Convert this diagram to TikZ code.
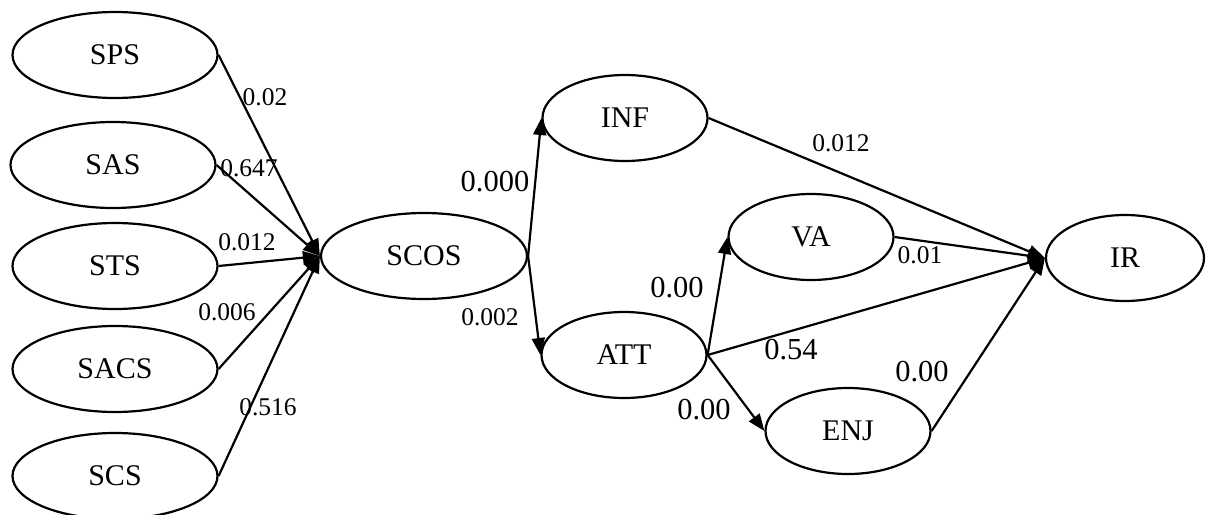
\documentclass[tikz,border=0pt]{standalone}
\usepackage{fontspec}
\setmainfont{Liberation Serif}
\usetikzlibrary{shapes.geometric,arrows.meta}
\begin{document}
\begin{tikzpicture}[x=1pt,y=-1pt,
  latent/.style={ellipse,draw,line width=2.2pt,inner sep=0pt,minimum height=86pt,font=\fontsize{30}{36}\selectfont},
  wide/.style={latent,minimum width=205pt},
  narrow/.style={latent,minimum width=165pt},
  edge/.style={line width=2.2pt,-{Triangle[length=17pt,width=13pt]}},
  lblsmall/.style={font=\fontsize{25.5}{30}\selectfont,inner sep=0pt},
  lblbig/.style={font=\fontsize{30.5}{36}\selectfont,inner sep=0pt}]
\useasboundingbox (0,0) rectangle (1210,514);
\node[wide] (SPS) at (115,55) {SPS};
\node[wide] (SAS) at (113,165) {SAS};
\node[wide] (STS) at (115,266) {STS};
\node[wide] (SACS) at (115,369) {SACS};
\node[wide] (SCS) at (115,476) {SCS};
\node[wide,minimum width=206pt] (SCOS) at (424,256) {SCOS};
\node[narrow] (INF) at (625,118) {INF};
\node[narrow] (ATT) at (624,355) {ATT};
\node[narrow] (VA) at (811,237) {VA};
\node[narrow] (ENJ) at (848,431) {ENJ};
\node[latent,minimum width=158pt] (IR) at (1125,258) {IR};

\draw[edge] (SPS.east) -- (SCOS.west);
\draw[edge] (SAS.east) -- (SCOS.west);
\draw[edge] (STS.east) -- (SCOS.west);
\draw[edge] (SACS.east) -- (SCOS.west);
\draw[edge] (SCS.east) -- (SCOS.west);
\draw[edge] (SCOS.east) -- (INF.west);
\draw[edge] (SCOS.east) -- (ATT.west);
\draw[edge] (ATT.east) -- (VA.west);
\draw[edge] (ATT.east) -- (ENJ.west);
\draw[edge] (ATT.east) -- (IR.west);
\draw[edge] (INF.east) -- (IR.west);
\draw[edge] (VA.east) -- (IR.west);
\draw[edge] (ENJ.east) -- (IR.west);

\node[lblsmall] (l1) at (265,97) {0.02};
\node[lblsmall] (l2) at (249,168) {0.647};
\node[lblsmall] (l3) at (247,242) {0.012};
\node[lblsmall] (l4) at (227,312) {0.006};
\node[lblsmall] (l5) at (268,407) {0.516};
\node[lblbig] (l6) at (495,182) {0.000};
\node[lblsmall] (l7) at (490,317) {0.002};
\node[lblbig] (l8) at (677,288) {0.00};
\node[lblbig] (l9) at (704,410) {0.00};
\node[lblsmall] (l10) at (841,143) {0.012};
\node[lblsmall] (l11) at (920,255) {0.01};
\node[lblbig] (l12) at (791,350) {0.54};
\node[lblbig] (l13) at (922,372) {0.00};
\end{tikzpicture}
\end{document}
